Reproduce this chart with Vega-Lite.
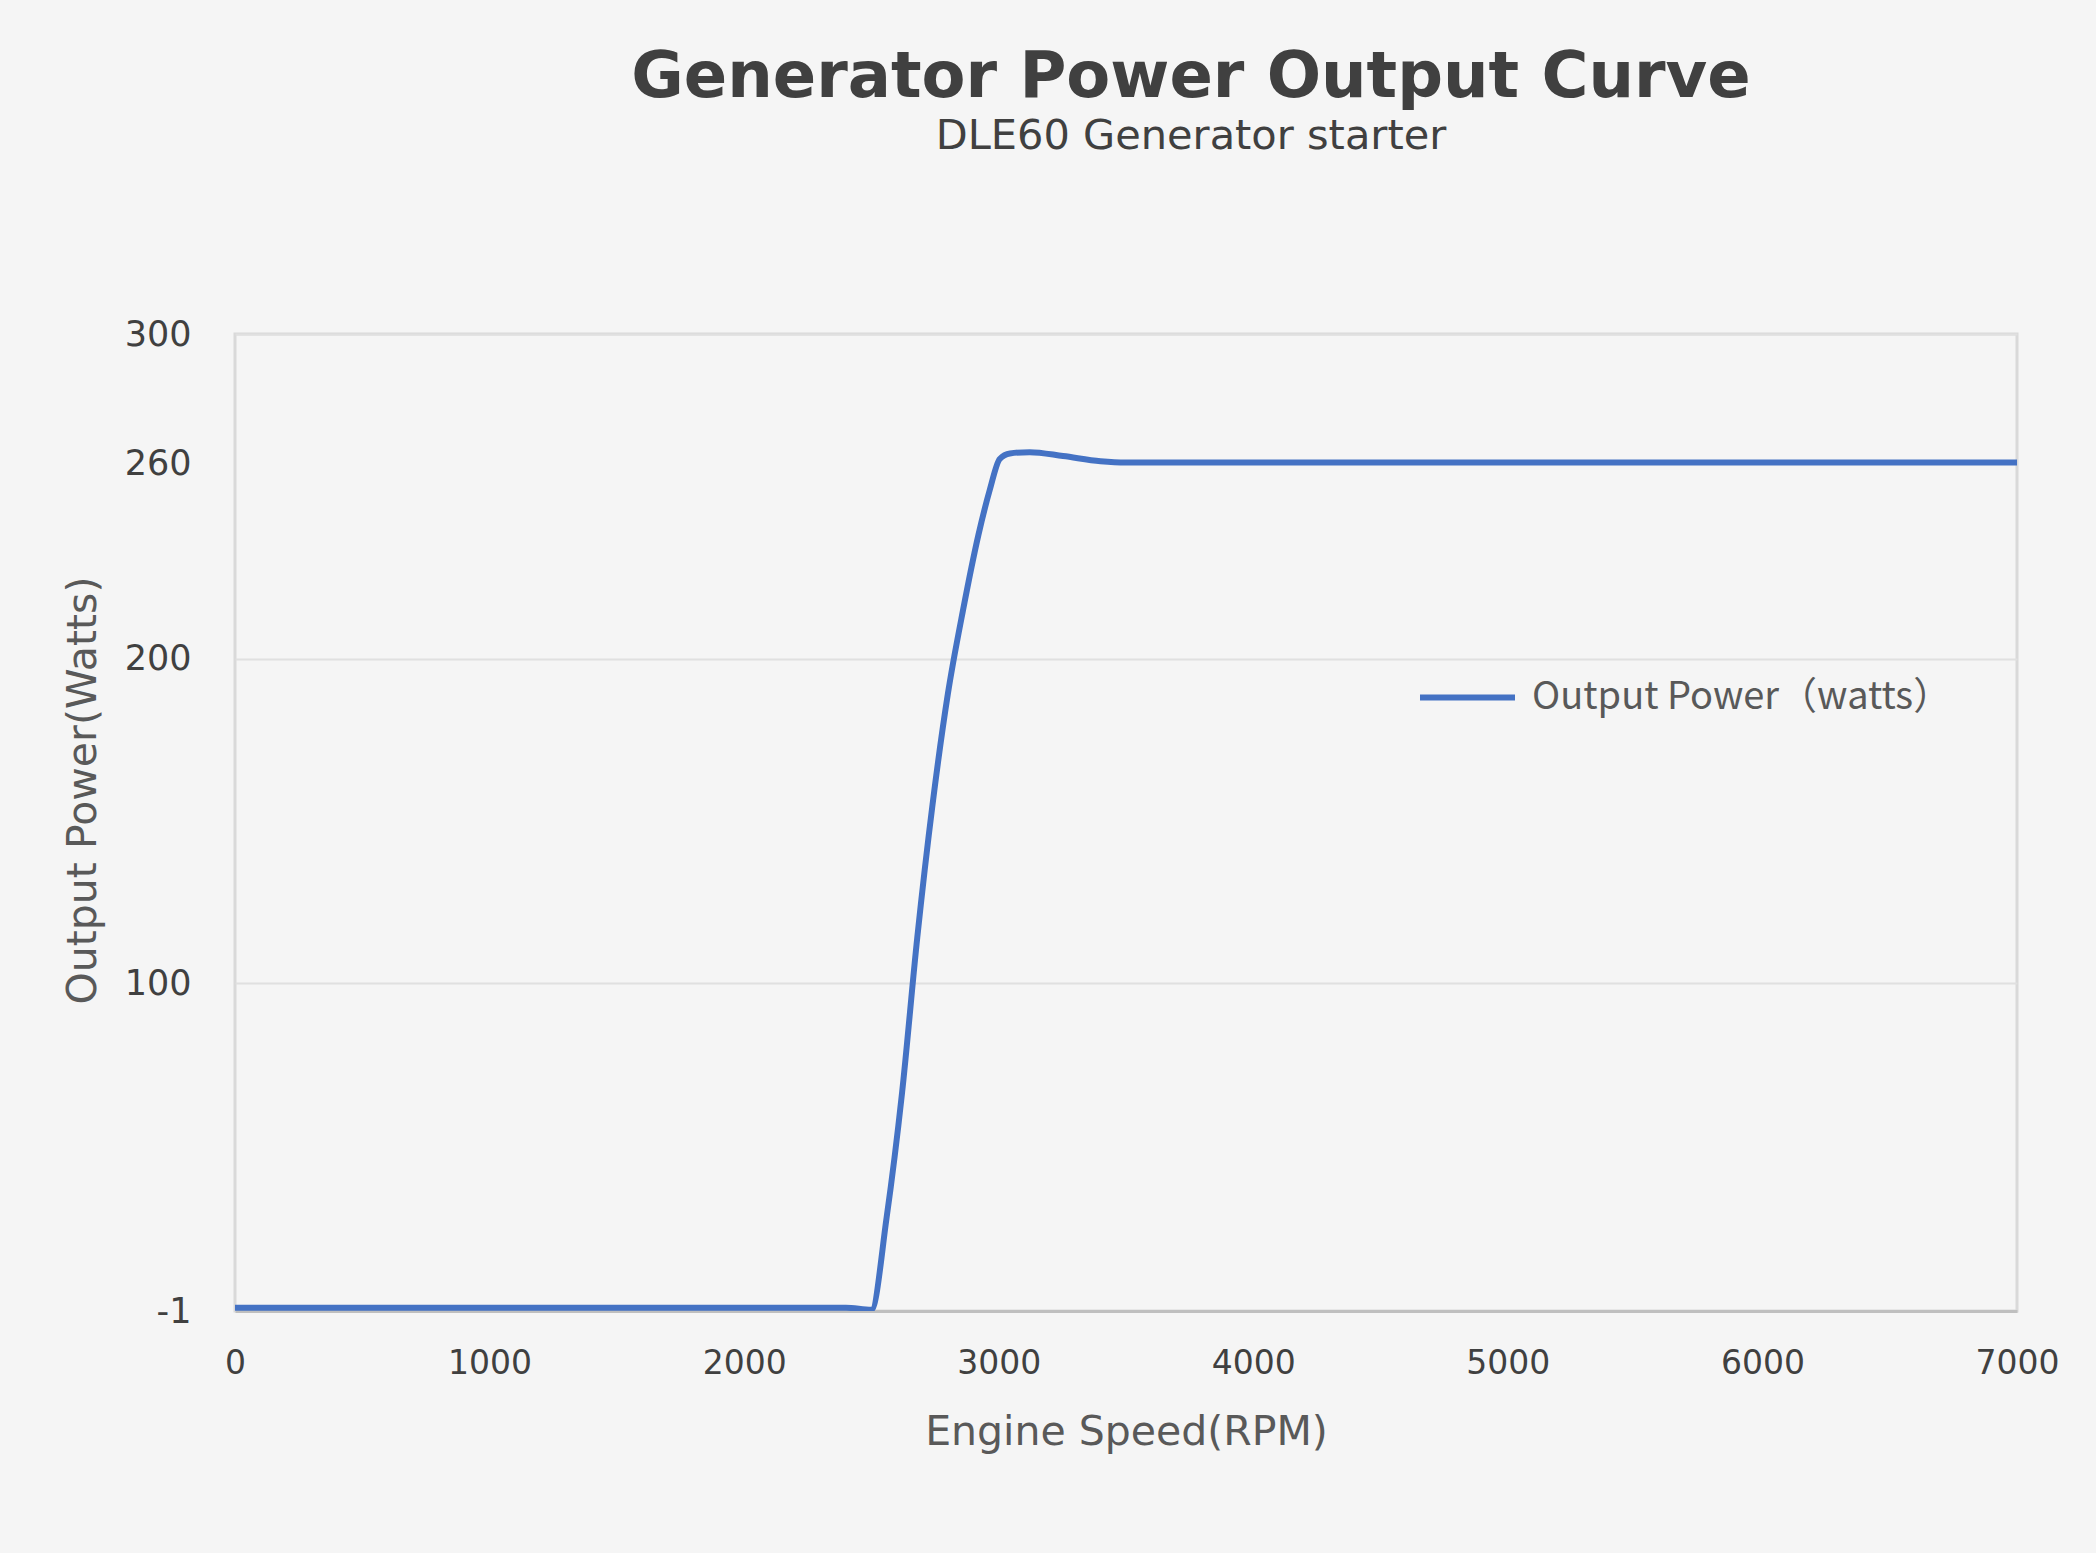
{
  "$schema": "https://vega.github.io/schema/vega-lite/v6.json",
  "autosize": {"type": "none"},
  "width": 1782,
  "height": 977,
  "padding": {"left": 235, "top": 334, "right": 79, "bottom": 242},
  "background": "#f5f5f5",
  "title": {
    "text": "Generator Power Output Curve",
    "subtitle": "DLE60 Generator starter",
    "anchor": "middle",
    "frame": "group",
    "dx": 65,
    "offset": 160,
    "font": "DejaVu Sans",
    "fontSize": 64,
    "fontWeight": "bold",
    "color": "#404040",
    "subtitleFont": "DejaVu Sans",
    "subtitleFontSize": 41.5,
    "subtitleColor": "#404040",
    "subtitlePadding": 6
  },
  "config": {
    "view": {"stroke": "#d9d9d9", "strokeWidth": 3, "fill": "#f5f5f5"}
  },
  "data": {
    "values": [
      {"rpm": 0, "watts": 0, "series": "Output Power（watts）"},
      {"rpm": 500, "watts": 0, "series": "Output Power（watts）"},
      {"rpm": 1000, "watts": 0, "series": "Output Power（watts）"},
      {"rpm": 1500, "watts": 0, "series": "Output Power（watts）"},
      {"rpm": 2000, "watts": 0, "series": "Output Power（watts）"},
      {"rpm": 2400, "watts": 0, "series": "Output Power（watts）"},
      {"rpm": 2500, "watts": -0.6, "series": "Output Power（watts）"},
      {"rpm": 2560, "watts": 28, "series": "Output Power（watts）"},
      {"rpm": 2620, "watts": 66, "series": "Output Power（watts）"},
      {"rpm": 2680, "watts": 114, "series": "Output Power（watts）"},
      {"rpm": 2740, "watts": 155, "series": "Output Power（watts）"},
      {"rpm": 2800, "watts": 189, "series": "Output Power（watts）"},
      {"rpm": 2860, "watts": 215, "series": "Output Power（watts）"},
      {"rpm": 2920, "watts": 238, "series": "Output Power（watts）"},
      {"rpm": 2965, "watts": 252, "series": "Output Power（watts）"},
      {"rpm": 3004, "watts": 261.5, "series": "Output Power（watts）"},
      {"rpm": 3044, "watts": 263.2, "series": "Output Power（watts）"},
      {"rpm": 3122, "watts": 263.6, "series": "Output Power（watts）"},
      {"rpm": 3253, "watts": 262.4, "series": "Output Power（watts）"},
      {"rpm": 3400, "watts": 260.8, "series": "Output Power（watts）"},
      {"rpm": 3500, "watts": 260.4, "series": "Output Power（watts）"},
      {"rpm": 4000, "watts": 260.4, "series": "Output Power（watts）"},
      {"rpm": 4500, "watts": 260.4, "series": "Output Power（watts）"},
      {"rpm": 5000, "watts": 260.4, "series": "Output Power（watts）"},
      {"rpm": 5500, "watts": 260.4, "series": "Output Power（watts）"},
      {"rpm": 6000, "watts": 260.4, "series": "Output Power（watts）"},
      {"rpm": 6500, "watts": 260.4, "series": "Output Power（watts）"},
      {"rpm": 7000, "watts": 260.4, "series": "Output Power（watts）"}
    ]
  },
  "mark": {"type": "line", "interpolate": "monotone", "strokeWidth": 6, "strokeCap": "round", "strokeJoin": "round", "clip": true},
  "encoding": {
    "x": {
      "field": "rpm",
      "type": "quantitative",
      "scale": {"domain": [0, 7000], "nice": false},
      "axis": {
        "title": "Engine Speed(RPM)",
        "values": [0, 1000, 2000, 3000, 4000, 5000, 6000, 7000],
        "format": "d",
        "grid": false,
        "ticks": false,
        "tickSize": 0,
        "domainColor": "#bfbfbf",
        "domainWidth": 3,
        "labelFont": "DejaVu Sans",
        "labelFontSize": 33,
        "labelColor": "#404040",
        "labelPadding": 36,
        "labelFlush": false,
        "titleFont": "DejaVu Sans",
        "titleFontSize": 41,
        "titleFontWeight": "normal",
        "titleColor": "#595959",
        "titleY": 121,
        "titleBaseline": "middle"
      }
    },
    "y": {
      "field": "watts",
      "type": "quantitative",
      "scale": {"domain": [-1, 300], "nice": false, "zero": false},
      "axis": {
        "title": "Output Power(Watts)",
        "values": [-1, 100, 200, 260, 300],
        "labelExpr": "'' + datum.value",
        "domain": false,
        "ticks": false,
        "tickSize": 0,
        "gridColor": {"condition": {"test": "datum.value == 260", "value": "transparent"}, "value": "#e0e0e0"},
        "gridWidth": 2,
        "labelFont": "DejaVu Sans",
        "labelFontSize": 35,
        "labelColor": "#404040",
        "labelPadding": 44,
        "titleFont": "DejaVu Sans",
        "titleFontSize": 41,
        "titleFontWeight": "normal",
        "titleColor": "#595959",
        "titleX": -152,
        "titleY": 456,
        "titleBaseline": "middle"
      }
    },
    "color": {
      "field": "series",
      "type": "nominal",
      "scale": {"range": ["#4472c4"]},
      "legend": {
        "title": null,
        "orient": "none",
        "legendX": 1182,
        "legendY": 313,
        "symbolType": "stroke",
        "symbolSize": 9025,
        "symbolStrokeWidth": 6,
        "labelFont": "Noto Sans CJK SC",
        "labelFontSize": 38,
        "labelColor": "#595959",
        "labelOffset": 14,
        "labelLimit": 600
      }
    }
  }
}
